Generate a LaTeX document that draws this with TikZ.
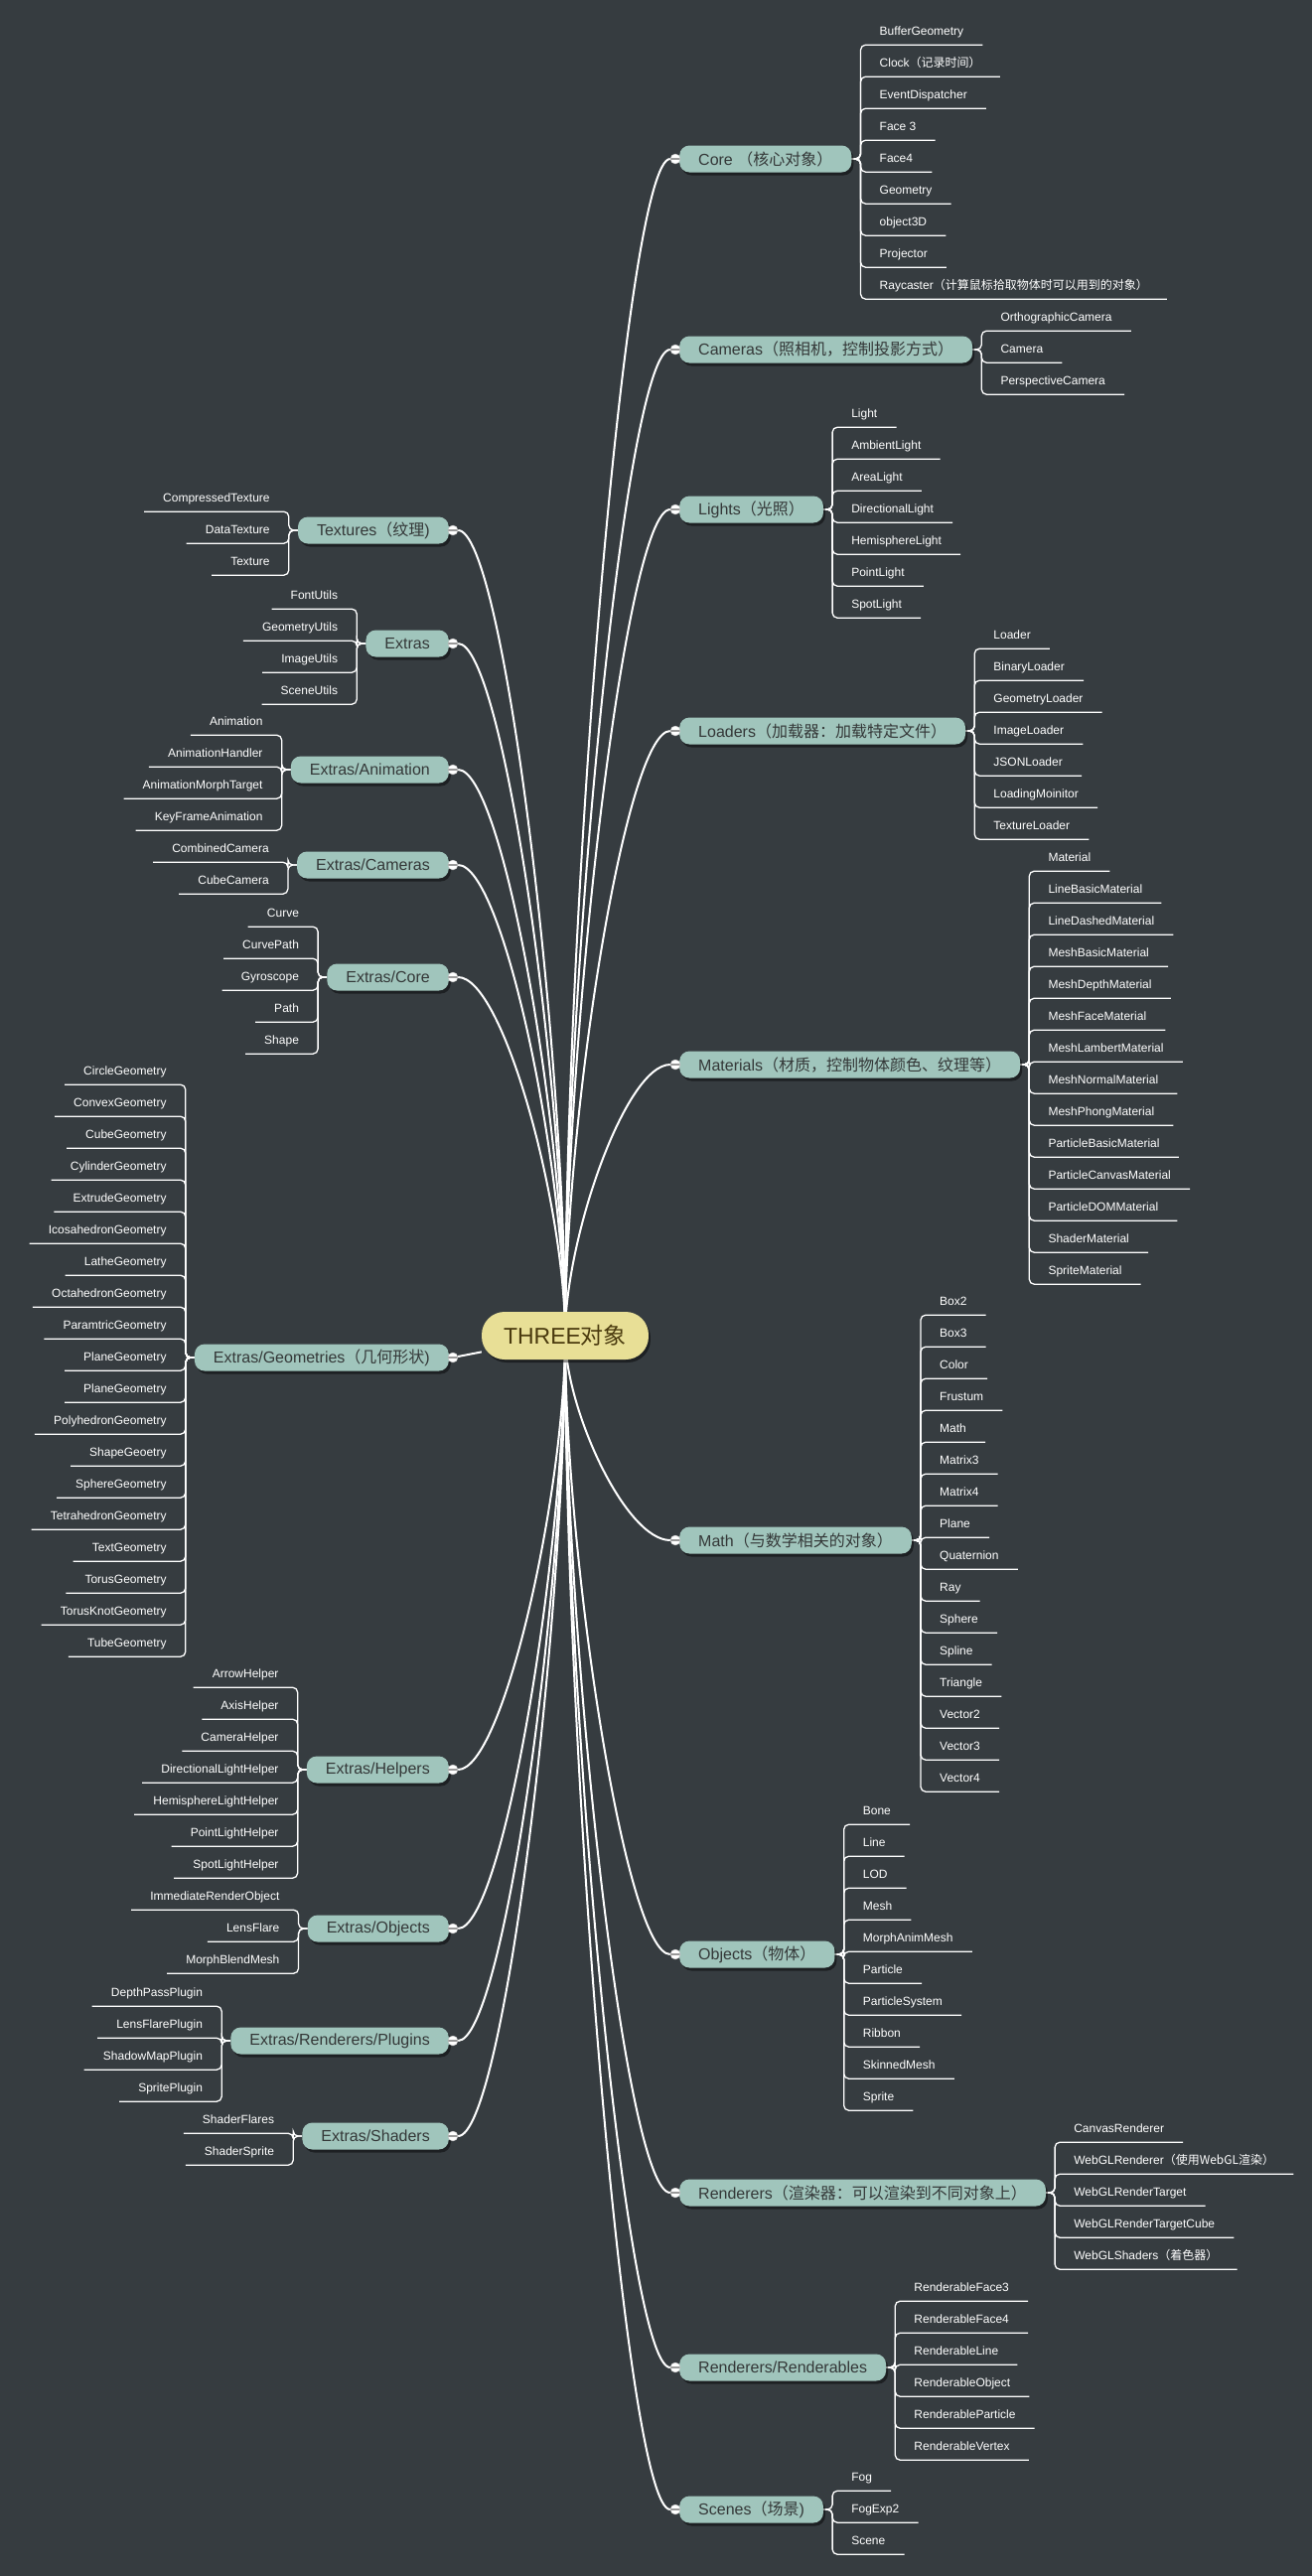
\documentclass[tikz,border=0pt]{standalone}
\usepackage{fontspec}
\setmainfont{Liberation Sans}
\newfontfamily\cjk{Noto Sans CJK SC}
\newcommand\zh[1]{{\cjk #1}}
\usetikzlibrary{calc,shadows}
\definecolor{slate}{RGB}{54,60,64}
\definecolor{sage}{RGB}{160,197,188}
\definecolor{straw}{RGB}{232,223,150}
\definecolor{inkbrown}{RGB}{74,58,14}
\definecolor{inkgrey}{RGB}{52,56,56}
\pgfdeclarelayer{bg}
\pgfdeclarelayer{links}
\pgfsetlayers{bg,links,main}
\tikzset{
  root/.style={fill=straw, text=inkbrown, rounded corners=23pt, minimum height=48pt,
    inner xsep=22pt, font=\fontsize{23}{26}\selectfont,
    drop shadow={shadow xshift=2pt, shadow yshift=-3pt, opacity=.45, fill=black}},
  topic/.style={fill=sage, text=inkgrey, rounded corners=10pt, minimum height=27pt,
    inner xsep=19pt, font=\fontsize{16}{19}\selectfont,
    drop shadow={shadow xshift=2pt, shadow yshift=-3pt, opacity=.45, fill=black}},
  leaf/.style={text=white, minimum height=26pt, inner xsep=19pt, inner ysep=0pt,
    font=\fontsize{12}{14}\selectfont, text height=9pt, text depth=3pt},
  knob/.style={circle, fill=white, draw=gray!50, inner sep=0pt, minimum size=10pt,
    path picture={\draw[gray!80, line width=1.3pt] (path picture bounding box.west)
      -- (path picture bounding box.east);}},
  trunk/.style={white, line width=2pt},
  twig/.style={white, line width=1.3pt, rounded corners=5pt}
}
\newcommand\kidsR[3]{%
  \foreach \t [count=\i] in {#3}
    \node[leaf, anchor=west] (#1-\i) at ($(#1.east)+(9,{(\i-(#2+1)/2)*32})$) {\t};
  \begin{pgfonlayer}{links}
    \foreach \i in {1,...,#2}
      \draw[twig] (#1.east) -| (#1-\i.south west) -- (#1-\i.south east);
  \end{pgfonlayer}}
\newcommand\kidsL[3]{%
  \foreach \t [count=\i] in {#3}
    \node[leaf, anchor=east] (#1-\i) at ($(#1.west)+(-9,{(\i-(#2+1)/2)*32})$) {\t};
  \begin{pgfonlayer}{links}
    \foreach \i in {1,...,#2}
      \draw[twig] (#1.west) -| (#1-\i.south east) -- (#1-\i.south west);
  \end{pgfonlayer}}

\begin{document}
\begin{tikzpicture}[x=1pt,y=-1pt]
  \useasboundingbox (0,0) rectangle (1321,2594);
  \begin{pgfonlayer}{bg}
    \fill[slate] (0,0) rectangle (1321,2594);
  \end{pgfonlayer}

  \node[root] (root) at (569,1345) {THREE\zh{对象}};

  \node[topic, anchor=west] (core) at (684,160) {Core \zh{（核心对象）}};
  \node[topic, anchor=west] (cameras) at (684,352) {Cameras\zh{（照相机，控制投影方式）}};
  \node[topic, anchor=west] (lights) at (684,513) {Lights\zh{（光照）}};
  \node[topic, anchor=west] (loaders) at (684,736) {Loaders\zh{（加载器：加载特定文件）}};
  \node[topic, anchor=west] (materials) at (684,1072) {Materials\zh{（材质，控制物体颜色、纹理等）}};
  \node[topic, anchor=west] (math) at (684,1551) {Math\zh{（与数学相关的对象）}};
  \node[topic, anchor=west] (objects) at (684,1968) {Objects\zh{（物体）}};
  \node[topic, anchor=west] (renderers) at (684,2208) {Renderers\zh{（渲染器：可以渲染到不同对象上）}};
  \node[topic, anchor=west] (renderables) at (684,2384) {Renderers/Renderables};
  \node[topic, anchor=west] (scenes) at (684,2527) {Scenes\zh{（场景})};

  \node[topic, anchor=east] (textures) at (452,534) {Textures\zh{（纹理})};
  \node[topic, anchor=east] (extras) at (452,648) {Extras};
  \node[topic, anchor=east] (anim) at (452,775) {Extras/Animation};
  \node[topic, anchor=east] (xcams) at (452,871) {Extras/Cameras};
  \node[topic, anchor=east] (xcore) at (452,984) {Extras/Core};
  \node[topic, anchor=east] (geom) at (452,1367) {Extras/Geometries\zh{（几何形状})};
  \node[topic, anchor=east] (helpers) at (452,1782) {Extras/Helpers};
  \node[topic, anchor=east] (xobjects) at (452,1942) {Extras/Objects};
  \node[topic, anchor=east] (plugins) at (452,2055) {Extras/Renderers/Plugins};
  \node[topic, anchor=east] (shaders) at (452,2151) {Extras/Shaders};

  \foreach \b in {core,cameras,lights,loaders,materials,math,objects,renderers,renderables,scenes}
    \node[knob] (k\b) at ([xshift=-4pt]\b.west) {};
  \foreach \b in {textures,extras,anim,xcams,xcore,geom,helpers,xobjects,plugins,shaders}
    \node[knob] (k\b) at ([xshift=4pt]\b.east) {};

  \begin{pgfonlayer}{links}
    \foreach \b in {core,cameras,lights,loaders,materials,math,objects,renderers,renderables,scenes,
                    textures,extras,anim,xcams,xcore,helpers,xobjects,plugins,shaders}
      \draw[trunk] (root.center) .. controls ($(root.center)!0.36!(root.center|-k\b)$)
        and ($(k\b)!0.45!(k\b-|root.center)$) .. (k\b);
    \draw[trunk] (root) -- (kgeom);
  \end{pgfonlayer}

  \kidsR{core}{9}{BufferGeometry, {Clock\zh{（记录时间）}}, EventDispatcher, Face 3, Face4,
    Geometry, object3D, Projector, {Raycaster\zh{（计算鼠标拾取物体时可以用到的对象）}}}
  \kidsR{cameras}{3}{OrthographicCamera, Camera, PerspectiveCamera}
  \kidsR{lights}{7}{Light, AmbientLight, AreaLight, DirectionalLight, HemisphereLight,
    PointLight, SpotLight}
  \kidsR{loaders}{7}{Loader, BinaryLoader, GeometryLoader, ImageLoader, JSONLoader,
    LoadingMoinitor, TextureLoader}
  \kidsR{materials}{14}{Material, LineBasicMaterial, LineDashedMaterial, MeshBasicMaterial,
    MeshDepthMaterial, MeshFaceMaterial, MeshLambertMaterial, MeshNormalMaterial,
    MeshPhongMaterial, ParticleBasicMaterial, ParticleCanvasMaterial, ParticleDOMMaterial,
    ShaderMaterial, SpriteMaterial}
  \kidsR{math}{16}{Box2, Box3, Color, Frustum, Math, Matrix3, Matrix4, Plane, Quaternion,
    Ray, Sphere, Spline, Triangle, Vector2, Vector3, Vector4}
  \kidsR{objects}{10}{Bone, Line, LOD, Mesh, MorphAnimMesh, Particle, ParticleSystem,
    Ribbon, SkinnedMesh, Sprite}
  \kidsR{renderers}{5}{CanvasRenderer, {WebGLRenderer\zh{（使用WebGL渲染）}},
    WebGLRenderTarget, WebGLRenderTargetCube, {WebGLShaders\zh{（着色器）}}}
  \kidsR{renderables}{6}{RenderableFace3, RenderableFace4, RenderableLine,
    RenderableObject, RenderableParticle, RenderableVertex}
  \kidsR{scenes}{3}{Fog, FogExp2, Scene}

  \kidsL{textures}{3}{CompressedTexture, DataTexture, Texture}
  \kidsL{extras}{4}{FontUtils, GeometryUtils, ImageUtils, SceneUtils}
  \kidsL{anim}{4}{Animation, AnimationHandler, AnimationMorphTarget, KeyFrameAnimation}
  \kidsL{xcams}{2}{CombinedCamera, CubeCamera}
  \kidsL{xcore}{5}{Curve, CurvePath, Gyroscope, Path, Shape}
  \kidsL{geom}{19}{CircleGeometry, ConvexGeometry, CubeGeometry, CylinderGeometry,
    ExtrudeGeometry, IcosahedronGeometry, LatheGeometry, OctahedronGeometry,
    ParamtricGeometry, PlaneGeometry, PlaneGeometry, PolyhedronGeometry, ShapeGeoetry,
    SphereGeometry, TetrahedronGeometry, TextGeometry, TorusGeometry, TorusKnotGeometry,
    TubeGeometry}
  \kidsL{helpers}{7}{ArrowHelper, AxisHelper, CameraHelper, DirectionalLightHelper,
    HemisphereLightHelper, PointLightHelper, SpotLightHelper}
  \kidsL{xobjects}{3}{ImmediateRenderObject, LensFlare, MorphBlendMesh}
  \kidsL{plugins}{4}{DepthPassPlugin, LensFlarePlugin, ShadowMapPlugin, SpritePlugin}
  \kidsL{shaders}{2}{ShaderFlares, ShaderSprite}
\end{tikzpicture}
\end{document}
